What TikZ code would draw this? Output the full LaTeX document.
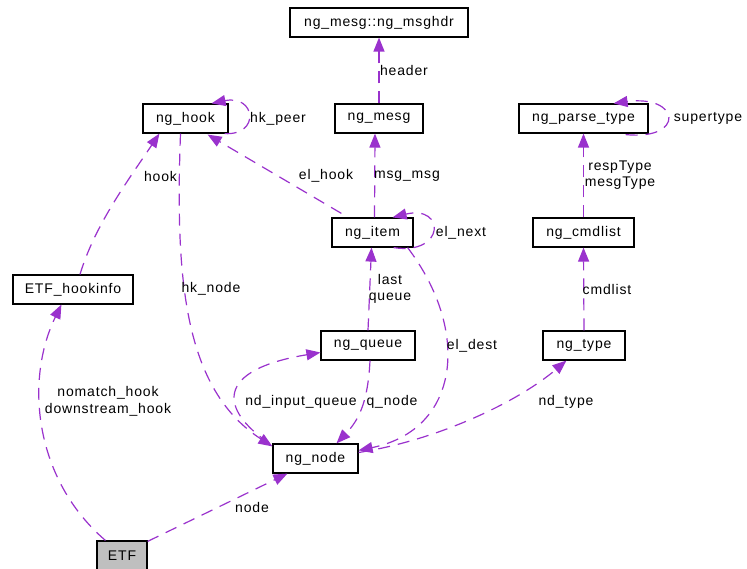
\documentclass[tikz,border=0pt]{standalone}
\usepackage{fontspec}
\setmainfont{Liberation Sans}[LetterSpace=6]
\usetikzlibrary{arrows.meta,calc}
\definecolor{edgepurple}{RGB}{154,50,205}
\definecolor{etfgray}{RGB}{191,191,191}
\begin{document}
\begin{tikzpicture}[x=1pt,y=-1pt,
  cls/.style={draw=black,line width=1.2pt,fill=white,minimum height=29pt,
    inner sep=0pt,font=\fontsize{14}{16}\selectfont},
  rel/.style={draw=edgepurple,line width=1.2pt,dash pattern=on 12pt off 8pt,
    -{Triangle[length=14pt,width=11pt]}},
  lbl/.style={font=\fontsize{14}{16.5}\selectfont,inner sep=0pt,align=center}]
\fill[white] (0,0) rectangle (747,569);
\useasboundingbox (0,0) rectangle (747,569);

% classes
\node[cls,minimum width=178pt] (msghdr)    at (379,22.5)   {ng\_mesg::ng\_msghdr};
\node[cls,minimum width=85pt]  (nghook)    at (185.5,118.5) {ng\_hook};
\node[cls,minimum width=88pt]  (ngmesg)    at (379,118.5)  {ng\_mesg};
\node[cls,minimum width=129pt] (parsetype) at (583.5,118.5) {ng\_parse\_type};
\node[cls,minimum width=81pt]  (ngitem)    at (372.5,232.5) {ng\_item};
\node[cls,minimum width=101pt] (cmdlist)   at (583.5,232.5) {ng\_cmdlist};
\node[cls,minimum width=120pt] (hookinfo)  at (73,289.5)   {ETF\_hookinfo};
\node[cls,minimum width=94pt]  (ngqueue)   at (368,345.5)  {ng\_queue};
\node[cls,minimum width=82pt]  (ngtype)    at (584,345.5)  {ng\_type};
\node[cls,minimum width=85pt]  (ngnode)    at (315.5,458.5) {ng\_node};
\node[cls,minimum width=50pt,fill=etfgray] (etf) at (122,555.5) {ETF};

% usage relations
\draw[rel] (ngmesg.north) -- (msghdr.south);
\draw[rel] ($(ngitem.north)+(2,0)$) -- ($(ngmesg.south)+(-4,0)$);
\draw[rel] ($(ngitem.north west)+(10,-4)$) -- ($(nghook.south east)+(-21,1)$);
\draw[rel] ($(nghook.south east)+(-4,0)$) .. controls +(36,2) and +(44,-9) .. ($(nghook.north east)+(-17,0)$);
\draw[rel] ($(hookinfo.north)+(7,0)$) .. controls +(15,-50) and +(-30,45) .. ($(nghook.south west)+(17,0)$);
\draw[rel] ($(nghook.south)+(-5,0)$) .. controls +(-5.5,147) and +(-88,-57) .. ($(ngnode.north west)+(0,3)$);
\draw[rel] ($(ngitem.south east)+(-20,0)$) .. controls +(52,8) and +(53,-13) .. ($(ngitem.north east)+(-21,0)$);
\draw[rel] (ngqueue.north) -- ($(ngitem.south)+(-1,0)$);
\draw[rel] ($(ngitem.south east)+(-6,0)$) .. controls +(63,83) and +(102,-21) .. ($(ngnode.north east)+(0,7)$);
\draw[rel] ($(ngnode.north west)+(-3,0)$) .. controls +(-50,-34) and +(-106,17.5) .. ($(ngqueue.west)+(0,7)$);
\draw[rel] ($(ngqueue.south)+(2,0)$) .. controls +(-2,40) and +(23,-24) .. ($(ngnode.north)+(21,0)$);
\draw[rel] ($(ngnode.east)+(0,-6)$) .. controls +(82,-13) and +(-47,40) .. ($(ngtype.south west)+(24,0)$);
\draw[rel] (ngtype.north) -- (cmdlist.south);
\draw[rel] (cmdlist.north) -- (parsetype.south);
\draw[rel] ($(parsetype.south east)+(-23,1)$) .. controls +(60,6) and +(67,-9) .. ($(parsetype.north east)+(-35,0)$);
\draw[rel] ($(etf.north west)+(9,0)$) .. controls +(-71,-61) and +(-37,76) .. ($(hookinfo.south west)+(49,0)$);
\draw[rel] ($(etf.north east)+(0,1)$) -- ($(ngnode.south west)+(15,0)$);

% relation labels
\node[lbl] (lheader)  at (404,70.5)  {header};
\node[lbl] (lmsgmsg)  at (407,176)   {msg\_msg};
\node[lbl] (lelhook)  at (326,176)   {el\_hook};
\node[lbl] (lhkpeer)  at (278,118.5) {hk\_peer};
\node[lbl] (lhook)    at (160.5,176) {hook};
\node[lbl] (lhknode)  at (211,289)   {hk\_node};
\node[lbl] (lelnext)  at (461,232.5) {el\_next};
\node[lbl] (lqueue)   at (390,289)   {last\\queue};
\node[lbl] (leldest)  at (472,345.5) {el\_dest};
\node[lbl] (linq)     at (301,402)   {nd\_input\_queue};
\node[lbl] (lqnode)   at (392,402)   {q\_node};
\node[lbl] (lndtype)  at (566,402)   {nd\_type};
\node[lbl] (lcmdlist) at (607,289)   {cmdlist};
\node[lbl] (lresp)    at (620,175)   {respType\\mesgType};
\node[lbl] (lsuper)   at (708,118.5) {supertype};
\node[lbl] (lnomatch) at (108,401.5) {nomatch\_hook\\downstream\_hook};
\node[lbl] (lnode)    at (252,507)   {node};
\end{tikzpicture}
\end{document}
